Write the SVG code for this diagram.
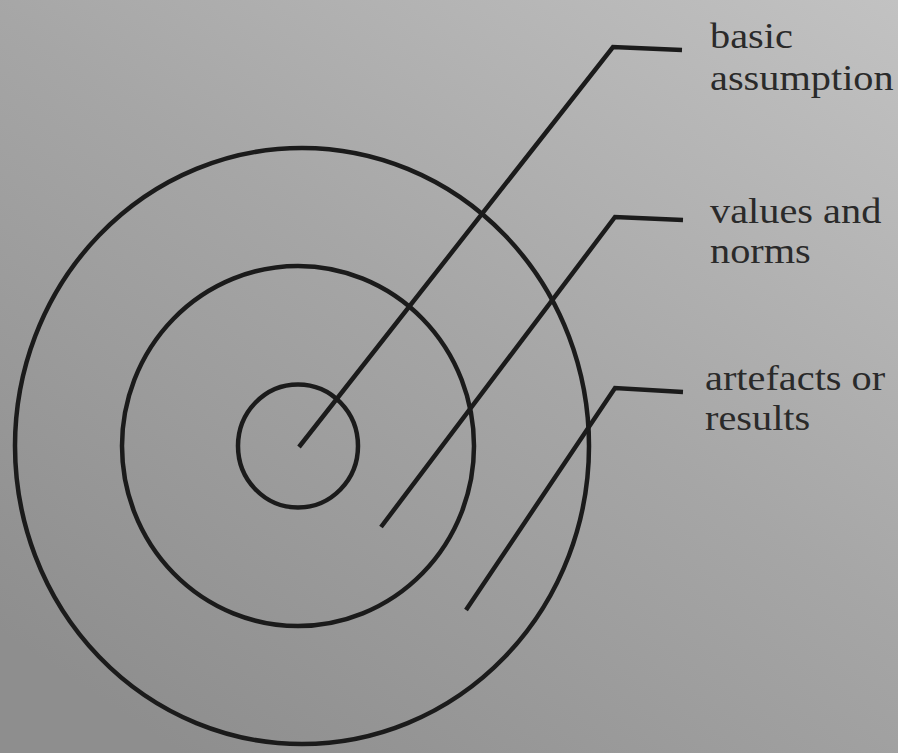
<svg xmlns="http://www.w3.org/2000/svg" width="898" height="753" viewBox="0 0 898 753">
<defs>
<linearGradient id="bg" x1="1" y1="0" x2="0.2" y2="1">
<stop offset="0" stop-color="#c2c2c2"/>
<stop offset="0.5" stop-color="#a6a6a6"/>
<stop offset="1" stop-color="#8e8e8e"/>
</linearGradient>
<style>
.ring{fill:none;stroke:#1b1b1b;stroke-width:4.5}
.lead{fill:none;stroke:#1b1b1b;stroke-width:4.5;stroke-linejoin:miter}
.lbl{font-family:"Liberation Serif","Times New Roman",serif;font-size:36px;fill:#2a2a2a}
</style>
</defs>
<rect width="898" height="753" fill="url(#bg)"/>
<g id="outer-ring"><ellipse class="ring" cx="302" cy="446" rx="287" ry="298"/></g>
<g id="middle-ring"><ellipse class="ring" cx="298" cy="446" rx="176" ry="180"/></g>
<g id="inner-ring"><ellipse class="ring" cx="298" cy="446" rx="60" ry="61.5"/></g>
<g id="connectors">
<polyline class="lead" points="299,447 613,47 682,50"/>
<polyline class="lead" points="381,527 615,217 683,220"/>
<polyline class="lead" points="466,610 615,388 683,392"/>
</g>
<g id="label-basic" transform="translate(710,0) scale(1.12,1)">
<text class="lbl" x="0" y="48">basic</text>
<text class="lbl" x="0" y="90">assumption</text>
</g>
<g id="label-values" transform="translate(710,0) scale(1.12,1)">
<text class="lbl" x="0" y="223">values and</text>
<text class="lbl" x="0" y="263">norms</text>
</g>
<g id="label-artefacts" transform="translate(705,0) scale(1.12,1)">
<text class="lbl" x="0" y="390">artefacts or</text>
<text class="lbl" x="0" y="430">results</text>
</g>
</svg>
